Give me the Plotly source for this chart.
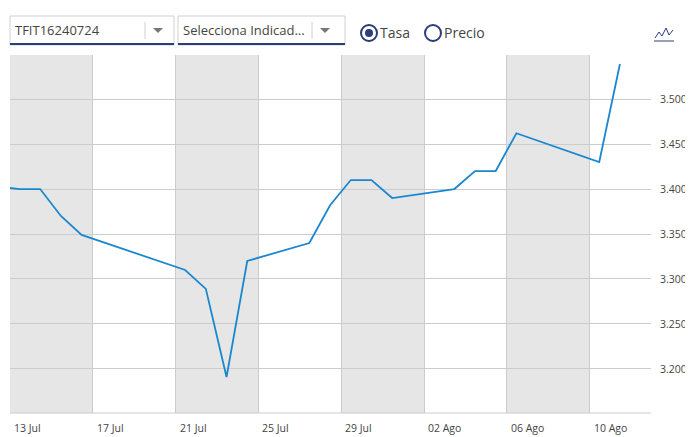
import plotly.graph_objects as go

dates = ["2020-07-12 11:00","2020-07-13 11:00","2020-07-14 11:00","2020-07-15 11:00","2020-07-16 11:00",
         "2020-07-21 11:00","2020-07-22 11:00","2020-07-23 11:00","2020-07-24 11:00",
         "2020-07-27 11:00","2020-07-28 11:00","2020-07-29 11:00","2020-07-30 11:00","2020-07-31 11:00",
         "2020-08-03 11:00","2020-08-04 11:00","2020-08-05 11:00","2020-08-06 11:00",
         "2020-08-10 11:00","2020-08-11 11:00"]
tasa = [3.4025,3.4000,3.4000,3.3700,3.3490,
        3.3100,3.2890,3.1910,3.3200,
        3.3400,3.3820,3.4100,3.4100,3.3900,
        3.4000,3.4200,3.4200,3.4620,
        3.4300,3.5390]
tick_dates = ["2020-07-13","2020-07-17","2020-07-21","2020-07-25","2020-07-29","2020-08-02","2020-08-06","2020-08-10"]
tick_labels = ["13 Jul","17 Jul","21 Jul","25 Jul","29 Jul","02 Ago","06 Ago","10 Ago"]
y_ticks = [3.2,3.25,3.3,3.35,3.4,3.45,3.5]
bands = [("2020-07-13","2020-07-17"),("2020-07-21","2020-07-25"),("2020-07-29","2020-08-02"),("2020-08-06","2020-08-10")]

W,H = 693,437
L,R,T,B = 2,50,47,32
def px(x): return (x-L)/(W-L-R)
def py(y): return (H-B-y)/(H-T-B)

fig = go.Figure(go.Scatter(x=dates, y=tasa, mode="lines", line=dict(color="#1a87d0", width=1.8), hoverinfo="x+y"))
shapes=[]
for a,b in bands:
    shapes.append(dict(type="rect", xref="x", yref="paper", x0=a, x1=b, y0=0, y1=1,
                       fillcolor="#e6e6e6", line_width=0, layer="below"))
shapes.append(dict(type="line", xref="paper", yref="paper", x0=0, x1=1, y0=0, y1=0, line=dict(color="#cccccc", width=1)))
def box(x0,y0,x1,y1,**k):
    shapes.append(dict(type="rect", xref="paper", yref="paper", x0=px(x0), x1=px(x1), y0=py(y1), y1=py(y0), **k))
box(2,8,166,37,line=dict(color="#d0d0d0",width=1),fillcolor="white")
box(2,35,166,37,line_width=0,fillcolor="#2b3d7a")
box(170,8,337,37,line=dict(color="#d0d0d0",width=1),fillcolor="white")
box(170,35,337,37,line_width=0,fillcolor="#2b3d7a")
for xd in (137,304):
    shapes.append(dict(type="line", xref="paper", yref="paper", x0=px(xd), x1=px(xd), y0=py(14), y1=py(31), line=dict(color="#d0d0d0",width=1)))
    shapes.append(dict(type="path", xref="paper", yref="paper",
                       path=f"M {px(xd+8)},{py(20)} L {px(xd+18)},{py(20)} L {px(xd+13)},{py(25)} Z",
                       fillcolor="#777", line_width=0))
for cx,filled in ((361,True),(425,False)):
    shapes.append(dict(type="circle", xref="paper", yref="paper", x0=px(cx-8), x1=px(cx+8), y0=py(33), y1=py(17),
                       line=dict(color="#2b3d7a",width=2), fillcolor="white"))
    if filled:
        shapes.append(dict(type="circle", xref="paper", yref="paper", x0=px(cx-4), x1=px(cx+4), y0=py(29), y1=py(21),
                           line_width=0, fillcolor="#2b3d7a"))
shapes.append(dict(type="path", xref="paper", yref="paper",
                   path=f"M {px(647)},{py(30)} L {px(651)},{py(24)} L {px(654)},{py(28)} L {px(658)},{py(20)} L {px(661)},{py(27)} L {px(665)},{py(22)}",
                   line=dict(color="#2b3d7a",width=1)))
shapes.append(dict(type="line", xref="paper", yref="paper", x0=px(646), x1=px(666), y0=py(33), y1=py(33), line=dict(color="#2b3d7a",width=1)))
shapes.append(dict(type="path", xref="paper", yref="paper",
                   path=f"M {px(680)},{py(33)} L {px(693)},{py(19)} L {px(693)},{py(33)} Z", fillcolor="#555", line_width=0))

ann=[]
def txt(x,y,s,size=13,color="#444"):
    ann.append(dict(xref="paper", yref="paper", x=px(x), y=py(y), text=s, showarrow=False,
                    xanchor="left", yanchor="middle", font=dict(family="Open Sans", size=size, color=color)))
txt(5,22,"TFIT16240724")
txt(173,22,"Selecciona Indicad...")
txt(370,24,"Tasa",14)
txt(434,24,"Precio",14)
for d,lab in zip(tick_dates, tick_labels):
    ann.append(dict(xref="x", yref="paper", x=d, y=py(420), text=lab, showarrow=False, xanchor="left",
                    xshift=2, yanchor="middle", font=dict(family="Open Sans", size=10.5, color="#444")))

fig.update_layout(width=W, height=H, margin=dict(l=L,r=R,t=T,b=B), plot_bgcolor="white", paper_bgcolor="white",
                  showlegend=False, shapes=shapes, annotations=ann,
                  font=dict(family="Open Sans", size=11, color="#444"))
fig.update_xaxes(range=["2020-07-13 00:00","2020-08-12 23:00"], tickvals=tick_dates, showticklabels=False,
                 showgrid=True, gridcolor="#cccccc", zeroline=False, showline=False, automargin=False)
fig.update_yaxes(range=[3.151,3.549], side="right", tickvals=y_ticks, ticktext=[f"{v:.4f}" for v in y_ticks],
                 gridcolor="#cccccc", zeroline=False, tickfont=dict(size=10.5), ticklabelstandoff=8, automargin=False)
fig.write_html("out.html")
